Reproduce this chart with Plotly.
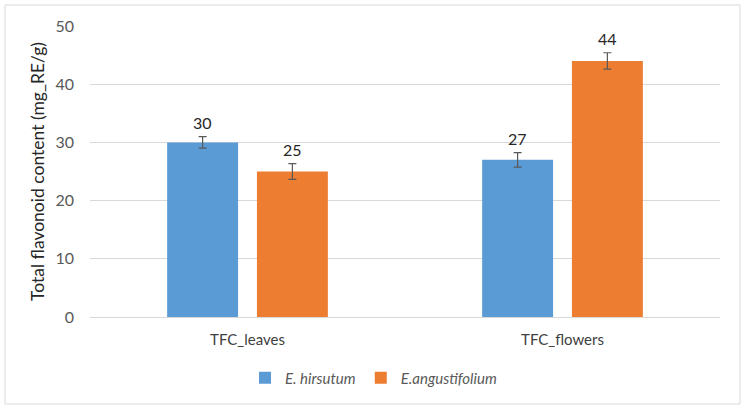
import plotly.graph_objects as go

categories = ["TFC_leaves", "TFC_flowers"]
series_names = ["E. hirsutum", "E.angustifolium"]
hirsutum = [30, 27]
angustifolium = [25, 44]
hirsutum_err = [1.0, 1.25]
angustifolium_err = [1.35, 1.4]
colors = ["#5B9BD5", "#ED7D31"]
y_ticks = [0, 10, 20, 30, 40, 50]

FONT = "Lato"

fig = go.Figure()
for name, vals, errs, col in zip(series_names, [hirsutum, angustifolium],
                                  [hirsutum_err, angustifolium_err], colors):
    fig.add_trace(go.Bar(
        x=categories, y=vals, name=f"<i>{name}</i>",
        marker=dict(color=col, line=dict(width=0)),
        error_y=dict(type="data", array=errs, visible=True,
                     color="#595959", thickness=1.2, width=4),
    ))

# value labels above the error bars
for i, (vals, errs) in enumerate([(hirsutum, hirsutum_err), (angustifolium, angustifolium_err)]):
    shift = -45 if i == 0 else 45
    for c, v, e in zip(categories, vals, errs):
        fig.add_annotation(x=c, y=v + e, xref="x", yref="y", text=str(v),
                           showarrow=False, xshift=shift, yshift=3,
                           yanchor="bottom",
                           font=dict(family=FONT, size=16, color="#262626"))

# chart outer border
fig.add_shape(type="rect", xref="paper", yref="paper",
              x0=-0.1349, x1=1.0317, y0=-0.299, y1=1.0722,
              line=dict(color="#D9D9D9", width=1), fillcolor="rgba(0,0,0,0)",
              layer="below")

fig.update_layout(
    width=745, height=409,
    margin=dict(l=90, r=25, t=26, b=92),
    paper_bgcolor="white", plot_bgcolor="white",
    barmode="group", bargap=0.43, bargroupgap=0.21,
    font=dict(family=FONT, color="#595959"),
    showlegend=True,
    legend=dict(orientation="h", x=0.45, xanchor="center", y=-0.21, yanchor="middle",
                font=dict(family=FONT, size=15, color="#595959"),
                itemwidth=30, traceorder="normal"),
    yaxis=dict(range=[0, 50], tickvals=y_ticks, showgrid=True, gridcolor="#D9D9D9",
               gridwidth=1, zeroline=True, zerolinecolor="#D9D9D9", zerolinewidth=1,
               showline=False, ticks="", ticklabelstandoff=15,
               tickfont=dict(family=FONT, size=16, color="#595959"),
               title=dict(text="Total flavonoid content (mg_RE/g)", standoff=6,
                          font=dict(family=FONT, size=17.5, color="#262626"))),
    xaxis=dict(showgrid=False, showline=False, ticks="", ticklabelstandoff=12,
               tickfont=dict(family=FONT, size=15, color="#404040")),
)

fig.write_html("out.html")
